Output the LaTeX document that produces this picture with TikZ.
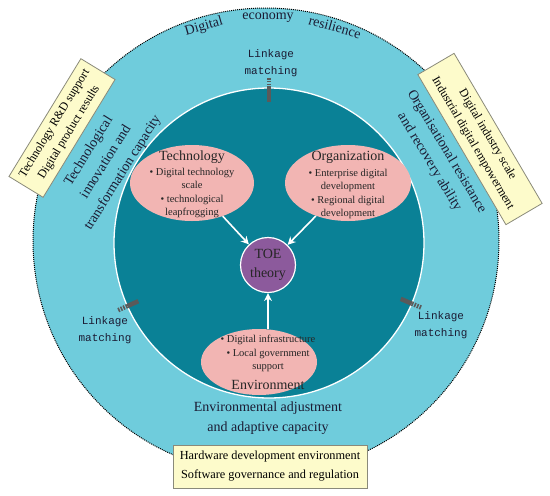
\documentclass[tikz,border=0pt]{standalone}
\usepackage{fontspec}
\setmainfont{Liberation Serif}
\setmonofont{Liberation Mono}
\usetikzlibrary{arrows.meta,calc,shapes.geometric}
\definecolor{ringc}{HTML}{6FCCDC}
\definecolor{innerc}{HTML}{0A8196}
\definecolor{ellc}{HTML}{F2B5B3}
\definecolor{toec}{HTML}{8C5A9C}
\definecolor{boxc}{HTML}{FDFBCB}
\definecolor{boxline}{HTML}{8A8A7A}
\definecolor{txt}{HTML}{1B1B33}
\definecolor{markc}{HTML}{5A5A5A}
\begin{document}
\begin{tikzpicture}[x=1pt,y=-1pt,
  ringtxt/.style={text=txt, font=\fontsize{14}{20}\selectfont, align=center, inner sep=0},
  ybox/.style={fill=boxc, draw=boxline, line width=0.8pt, align=center, text=black,
    font=\fontsize{12}{17}\selectfont, inner sep=1pt},
  ell/.style={ellipse, fill=ellc, inner sep=0},
  hdr/.style={text=black!85, font=\fontsize{14}{16}\selectfont, inner sep=0},
  bul/.style={text=black!85, font=\fontsize{10.5}{13.4}\selectfont, align=center, inner sep=0},
  lk/.style={text=txt, font=\ttfamily\fontsize{11}{17}\selectfont, align=center, inner sep=0},
  arr/.style={-{Stealth[length=8pt,width=8pt]}, draw=white, line width=1.6pt},
  marksolid/.style={draw=markc, line width=4.5pt},
  markdash/.style={draw=markc, line width=4.5pt, dash pattern=on 1.6pt off 1.2pt}]
\useasboundingbox (0,0) rectangle (550,496);
% rings
\node[circle, fill=ringc, draw=black, densely dotted, line width=1pt, minimum size=466pt, inner sep=0] (outer) at (266,241) {};
\node[circle, fill=innerc, draw=white, line width=1.3pt, minimum size=310pt, inner sep=0] (inner) at (269,243) {};
% boxes
\node[ybox, rotate=58.6, minimum width=138pt, minimum height=40pt] (lbox) at (62,128) {Technology R\&D support\\Digital product results};
\node[ybox, rotate=-59.6, minimum width=174pt, minimum height=42pt] (rbox) at (480,139) {Digital industry scale\\Industrial digital empowerment};
\node[ybox, minimum width=194pt, minimum height=43pt, font=\fontsize{12.3}{19}\selectfont] (bbox) at (270,466.5) {Hardware development environment\\Software governance and regulation};
% ring texts
\node[ringtxt, rotate=16] (dig) at (204,27) {Digital};
\node[ringtxt] (eco) at (268,18) {economy};
\node[ringtxt, rotate=-16] (res) at (335,27) {resilience};
\node[ringtxt, rotate=58] (techcap) at (106,162) {Technological\\innovation and\\transformation capacity};
\node[ringtxt, rotate=-59] (orgcap) at (438,157) {Organisational resistance\\and recovery ability};
\node[ringtxt] (envcap) at (268,418) {Environmental adjustment\\and adaptive capacity};
% linkage labels
\node[lk] (lk1) at (271,63) {Linkage\\matching};
\node[lk] (lk2) at (105,330) {Linkage\\matching};
\node[lk] (lk3) at (441,325) {Linkage\\matching};
% markers
\coordinate (tmA) at (269,78); \coordinate (tmB) at (269,88); \coordinate (tmC) at (269,102);
\draw[markdash] (tmA) -- (tmB); \draw[marksolid] (tmB) -- (tmC);
\coordinate (lmA) at (118.2,310.2); \coordinate (lmB) at (127.3,306.1); \coordinate (lmC) at (138.3,301.2);
\draw[markdash] (lmA) -- (lmB); \draw[marksolid] (lmB) -- (lmC);
\coordinate (rmA) at (421,307.5); \coordinate (rmB) at (411.8,303.6); \coordinate (rmC) at (400.7,298.9);
\draw[markdash] (rmA) -- (rmB); \draw[marksolid] (rmB) -- (rmC);
% ellipses
\node[ell, minimum width=124pt, minimum height=76pt] (tech) at (192,183) {};
\node[ell, minimum width=126pt, minimum height=76pt] (org) at (348,183) {};
\node[ell, minimum width=116pt, minimum height=66pt] (env) at (259,362) {};
\node[hdr] (techh) at (192,157) {Technology};
\node[bul] (techb) at (192,193) {• Digital technology\\scale\\• technological\\leapfrogging};
\node[hdr] (orgh) at (348,157) {Organization};
\node[bul] (orgb) at (348,194) {• Enterprise digital\\development\\• Regional digital\\development};
\node[bul] (envb) at (268,353.5) {• Digital infrastructure\\• Local government\\support};
\node[hdr] (envh) at (268,385) {Environment};
% TOE
\node[circle, fill=toec, draw=white, line width=1.2pt, minimum size=55pt, inner sep=0, align=center,
  text=black!85, font=\fontsize{14}{19}\selectfont] (toe) at (268,265) {TOE\\theory};
% arrows
\draw[arr] (tech) -- (toe);
\draw[arr] (org) -- (toe);
\draw[arr] (toe.south |- env.north) -- (toe.south);
\end{tikzpicture}
\end{document}
